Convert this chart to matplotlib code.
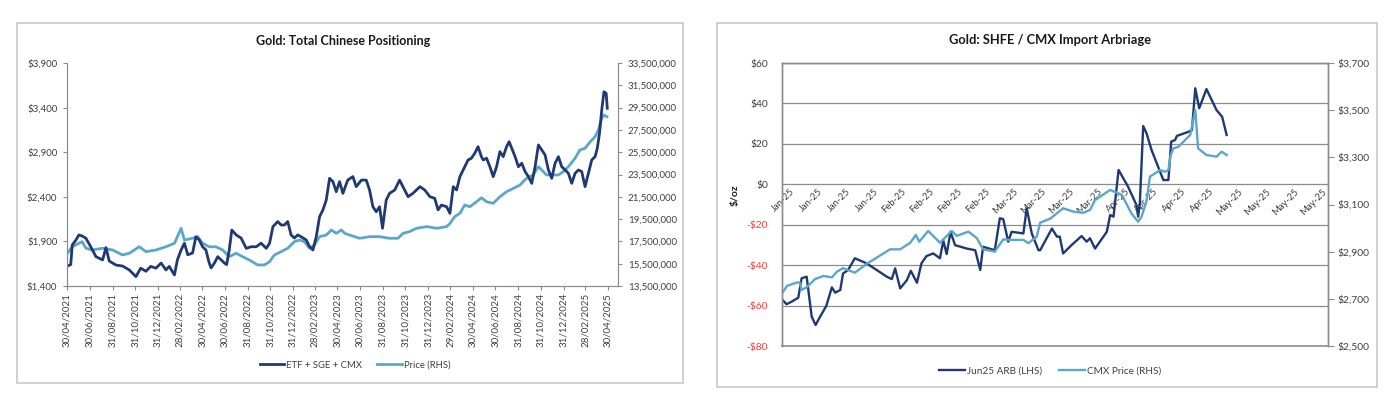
import matplotlib
matplotlib.use('Agg')
import matplotlib.pyplot as plt
import matplotlib.dates as mdates
import pandas as pd
from matplotlib.patches import Rectangle
from matplotlib.ticker import FuncFormatter

plt.rcParams['font.family'] = ['Lato', 'DejaVu Sans']

NAVY = '#1f3a73'
SKY = '#5ba6cb'
GREY = '#8c8c8c'
TXT = '#404040'

# ---- chart 1: Gold, total Chinese positioning (oz, millions) and gold price ($/oz)
pos_dates = [
    '2021-05-01', '2021-05-10', '2021-05-14', '2021-05-24', '2021-06-01', '2021-06-10', '2021-06-20',
    '2021-07-03', '2021-07-17', '2021-08-04', '2021-08-13', '2021-08-22', '2021-09-09', '2021-09-27',
    '2021-10-15', '2021-11-02', '2021-11-15', '2021-11-29', '2021-12-12', '2021-12-26', '2022-01-09',
    '2022-01-22', '2022-01-31', '2022-02-14', '2022-02-22', '2022-03-04', '2022-03-13', '2022-03-22',
    '2022-04-04', '2022-04-13', '2022-04-22', '2022-05-01', '2022-05-10', '2022-05-19', '2022-05-24',
    '2022-06-02', '2022-06-11', '2022-06-20', '2022-06-29', '2022-07-05', '2022-07-12', '2022-07-19',
    '2022-07-31', '2022-08-13', '2022-08-27', '2022-09-09', '2022-09-23', '2022-10-06', '2022-10-20',
    '2022-10-29', '2022-11-07', '2022-11-20', '2022-11-29', '2022-12-08', '2022-12-17', '2022-12-26',
    '2023-01-04', '2023-01-13', '2023-01-22', '2023-02-05', '2023-02-14', '2023-02-23', '2023-03-04',
    '2023-03-13', '2023-03-22', '2023-03-31', '2023-04-09', '2023-04-18', '2023-04-27', '2023-05-06',
    '2023-05-15', '2023-05-28', '2023-06-11', '2023-06-20', '2023-07-04', '2023-07-17', '2023-07-26',
    '2023-08-04', '2023-08-13', '2023-08-22', '2023-08-30', '2023-09-09', '2023-09-18', '2023-10-02',
    '2023-10-15', '2023-10-24', '2023-11-07', '2023-11-20', '2023-12-09', '2023-12-22', '2024-01-05',
    '2024-01-18', '2024-01-27', '2024-02-05', '2024-02-19', '2024-02-28', '2024-03-08', '2024-03-17',
    '2024-03-26', '2024-04-08', '2024-04-17', '2024-04-26', '2024-05-05', '2024-05-14', '2024-05-23',
    '2024-05-28', '2024-06-06', '2024-06-15', '2024-06-24', '2024-07-03', '2024-07-12', '2024-07-21',
    '2024-07-30', '2024-08-06', '2024-08-13', '2024-08-22', '2024-08-31', '2024-09-09', '2024-09-18',
    '2024-09-27', '2024-10-06', '2024-10-15', '2024-10-24', '2024-11-02', '2024-11-11', '2024-11-20',
    '2024-11-29', '2024-12-08', '2024-12-17', '2024-12-26', '2025-01-04', '2025-01-13', '2025-01-22',
    '2025-01-31', '2025-02-09', '2025-02-18', '2025-02-27', '2025-03-08', '2025-03-17', '2025-03-26',
    '2025-04-01', '2025-04-07', '2025-04-13', '2025-04-19', '2025-04-25', '2025-04-28',
]
pos_moz = [
    15.29, 15.42, 17.18, 17.63, 18.08, 17.98, 17.78,
    17.02, 16.13, 15.84, 16.94, 15.74, 15.38, 15.29,
    14.94, 14.34, 15.10, 14.82, 15.26, 15.10, 15.56,
    14.94, 15.26, 14.49, 15.84, 16.73, 17.34, 16.30,
    16.46, 17.92, 17.63, 17.02, 16.73, 15.56, 15.12,
    15.56, 16.13, 15.84, 15.56, 15.42, 16.73, 18.52,
    18.08, 17.80, 16.88, 17.02, 17.02, 17.34, 16.88,
    17.34, 18.82, 19.28, 18.97, 18.97, 19.28, 18.08,
    17.80, 18.08, 17.92, 17.63, 17.02, 16.73, 17.92,
    19.72, 20.32, 21.21, 23.16, 22.86, 21.96, 22.86,
    21.81, 23.00, 23.31, 22.41, 23.00, 23.00, 22.11,
    20.61, 20.16, 20.61, 18.68, 21.21, 21.81, 22.11,
    23.00, 22.41, 21.51, 21.81, 22.41, 22.11, 21.51,
    21.36, 20.32, 20.76, 20.61, 20.02, 22.41, 22.11,
    23.31, 24.20, 24.80, 24.96, 25.40, 26.00, 25.10,
    24.80, 24.96, 24.20, 23.31, 24.20, 25.55, 25.10,
    26.00, 26.44, 25.85, 25.10, 24.20, 24.51, 23.76,
    23.31, 22.71, 24.20, 26.15, 25.70, 25.25, 23.91,
    23.16, 24.51, 25.10, 24.20, 23.91, 23.60, 22.71,
    23.60, 23.91, 23.76, 22.41, 23.60, 24.80, 25.10,
    25.85, 27.20, 29.28, 30.92, 30.78, 29.44,
]

price_dates = [
    '2021-05-01', '2021-05-14', '2021-06-01', '2021-06-10', '2021-06-20', '2021-07-07', '2021-08-04',
    '2021-08-31', '2021-09-27', '2021-10-15', '2021-11-11', '2021-11-29', '2021-12-26', '2022-01-22',
    '2022-02-14', '2022-03-04', '2022-03-13', '2022-04-04', '2022-04-18', '2022-05-01', '2022-05-19',
    '2022-06-06', '2022-06-24', '2022-07-12', '2022-07-31', '2022-08-17', '2022-09-04', '2022-09-27',
    '2022-10-15', '2022-10-29', '2022-11-11', '2022-11-29', '2022-12-17', '2023-01-04', '2023-01-18',
    '2023-01-31', '2023-02-14', '2023-02-27', '2023-03-13', '2023-03-31', '2023-04-14', '2023-04-27',
    '2023-05-11', '2023-05-20', '2023-06-02', '2023-06-29', '2023-07-26', '2023-08-22', '2023-09-18',
    '2023-10-11', '2023-10-24', '2023-11-11', '2023-11-30', '2023-12-27', '2024-01-23', '2024-02-19',
    '2024-02-28', '2024-03-12', '2024-03-26', '2024-04-08', '2024-04-22', '2024-05-10', '2024-05-23',
    '2024-06-06', '2024-06-24', '2024-07-12', '2024-07-30', '2024-08-17', '2024-09-04', '2024-09-22',
    '2024-10-10', '2024-10-24', '2024-11-02', '2024-11-15', '2024-11-29', '2024-12-17', '2024-12-30',
    '2025-01-13', '2025-01-31', '2025-02-13', '2025-02-27', '2025-03-13', '2025-03-26', '2025-04-04',
    '2025-04-13', '2025-04-19', '2025-04-27',
]
price_usd = [
    1767, 1840, 1879, 1897, 1823, 1804, 1823,
    1804, 1748, 1767, 1840, 1785, 1804, 1840,
    1879, 2047, 1916, 1935, 1953, 1880, 1840,
    1840, 1804, 1729, 1767, 1729, 1692, 1636,
    1636, 1673, 1748, 1785, 1823, 1897, 1916,
    1897, 1823, 1860, 1953, 1972, 2028, 1990,
    2028, 1990, 1972, 1935, 1953, 1953, 1935,
    1935, 1990, 2010, 2047, 2066, 2047, 2066,
    2100, 2178, 2215, 2308, 2289, 2345, 2390,
    2345, 2327, 2401, 2457, 2494, 2532, 2607,
    2645, 2738, 2701, 2645, 2645, 2645, 2682,
    2738, 2832, 2925, 2944, 3018, 3074, 3149,
    3280, 3317, 3298,
]

# ---- chart 2: SHFE / CMX import arbitrage ($/oz) and CMX price
arb_labels = ['Jan-25'] * 4 + ['Feb-25'] * 4 + ['Mar-25'] * 4 + ['Apr-25'] * 4 + ['May-25'] * 4

arb_day = [
    0.0, 0.8, 1.7, 2.9, 3.5, 4.4, 5.3, 6.0, 6.8, 7.9, 8.9, 9.5, 10.4, 10.9, 11.8, 13.0,
    15.1, 16.9, 18.7, 19.6, 20.2, 21.1, 22.3, 23.0, 24.1, 24.9, 25.8, 27.0, 28.2, 28.8,
    29.4, 30.1, 30.9, 33.0, 34.5, 35.4, 35.9, 38.0, 38.9, 39.5, 40.4, 41.0, 43.1, 43.7,
    44.6, 45.8, 46.1, 48.2, 49.1, 49.6, 50.2, 51.7, 53.5, 54.4, 55.0, 55.9, 58.0, 58.6,
    59.2, 60.1, 61.8, 63.3, 63.6, 63.9, 64.5, 65.1, 66.0, 68.1, 69.0, 69.5, 70.2, 70.5,
    72.6, 73.2, 73.8, 74.5, 75.8, 77.6, 78.6, 79.4,
]
arb_usd = [
    -56.9, -59.3, -58.1, -56.1, -46.5, -45.7, -65.5, -69.6, -65.5, -60.2, -51.0, -53.6, -52.3, -44.1, -42.4, -36.6,
    -39.1, -42.4, -45.7, -46.9, -41.6, -51.5, -47.4, -42.8, -48.7, -39.1, -35.5, -34.2, -36.6, -27.9,
    -34.5, -23.5, -30.1, -31.8, -32.6, -42.4, -30.9, -32.6, -16.8, -17.2, -28.4, -23.5, -24.3, -11.9,
    -24.3, -32.6, -32.6, -21.9, -25.9, -25.9, -34.2, -30.1, -25.6, -28.4, -26.7, -31.8, -23.5, -15.2,
    -16.0, 7.1, -1.2, -10.3, -16.0, -9.5, 28.8, 25.2, 16.9, 2.1, 2.1, 21.1, 21.9, 23.9,
    26.0, 26.8, 47.5, 37.6, 47.1, 36.7, 33.4, 24.4,
]

cmx_day = [
    0.0, 0.9, 2.6, 3.2, 3.5, 4.4, 5.9, 7.4, 8.9, 9.8, 10.9, 13.0, 15.1, 17.2, 19.3, 21.1,
    22.9, 23.9, 24.5, 26.1, 28.2, 30.3, 31.2, 33.3, 34.8, 35.9, 38.0, 39.5, 41.0, 43.1,
    44.0, 45.5, 46.1, 47.9, 50.2, 52.0, 53.8, 55.0, 55.9, 58.6, 60.7, 62.4, 63.6, 64.2,
    65.1, 65.7, 67.5, 68.4, 69.0, 69.4, 69.9, 70.8, 72.3, 72.9, 73.8, 74.3, 75.8, 77.6,
    78.5, 79.4,
]
cmx_usd = [
    2723, 2755, 2769, 2769, 2738, 2749, 2784, 2797, 2791, 2815, 2830, 2811, 2848, 2879, 2910, 2910,
    2938, 2971, 2942, 2988, 2938, 2988, 2967, 2985, 2957, 2910, 2900, 2952, 2950, 2950,
    2936, 2964, 3023, 3040, 3084, 3070, 3065, 3077, 3119, 3162, 3140, 3062, 3027, 3048,
    3115, 3218, 3246, 3239, 3246, 3310, 3338, 3345, 3381, 3395, 3501, 3338, 3310, 3303,
    3324, 3310,
]

fig = plt.figure(figsize=(13.91, 3.99), dpi=100)

# panel frames
for x0, y0, w, h in [(0.0122, 0.0401, 0.4788, 0.9023), (0.5155, 0.0301, 0.4745, 0.9123)]:
    fig.patches.append(Rectangle((x0, y0), w, h, transform=fig.transFigure,
                                 fill=False, edgecolor='#c8c8c8', linewidth=1.2))

# ---------------- left chart ----------------
ax1 = fig.add_axes([0.0482, 0.2832, 0.3961, 0.5589])
ax1b = ax1.twinx()

l_price, = ax1.plot(pd.to_datetime(price_dates), price_usd, color=SKY, lw=2.0, label='Price (RHS)')
l_pos, = ax1b.plot(pd.to_datetime(pos_dates), pos_moz, color=NAVY, lw=2.0, label='ETF + SGE + CMX')

ax1.set_xlim(pd.Timestamp('2021-04-30'), pd.Timestamp('2025-05-27'))
ax1.set_ylim(1400, 3900)
ax1.set_yticks(range(1400, 3901, 500))
ax1.yaxis.set_major_formatter(FuncFormatter(lambda v, p: '${:,.0f}'.format(v)))
ax1b.set_ylim(13.5, 33.5)
ax1b.set_yticks([13.5 + 2 * k for k in range(11)])
ax1b.yaxis.set_major_formatter(FuncFormatter(lambda v, p: '{:,.0f}'.format(v * 1e6)))

month_ticks = pd.date_range('2021-04-30', '2025-04-30', freq='2ME')
ax1.set_xticks(month_ticks)
ax1.xaxis.set_major_formatter(mdates.DateFormatter('%d/%m/%Y'))
ax1.tick_params(axis='x', rotation=90, labelsize=7, colors=TXT, length=3, color=GREY, pad=2)
ax1.tick_params(axis='y', labelsize=7, colors=TXT, length=3, color=GREY, pad=4)
ax1b.tick_params(axis='y', labelsize=7, colors=TXT, length=3, color=GREY, pad=4)

for a in (ax1, ax1b):
    a.spines['top'].set_visible(False)
    for s in ('left', 'right', 'bottom'):
        a.spines[s].set_color(GREY)
        a.spines[s].set_linewidth(0.8)

fig.text(0.2466, 0.8972, 'Gold: Total Chinese Positioning', ha='center', va='center',
         fontsize=9, fontweight='bold', color='#1a1a1a')
fig.legend(handles=[l_pos, l_price], loc='center', bbox_to_anchor=(0.2552, 0.0852), ncol=2,
           frameon=False, fontsize=6.8, handlelength=2.6, columnspacing=1.6, handletextpad=0.2,
           labelcolor=TXT)

# ---------------- right chart ----------------
ax2 = fig.add_axes([0.5622, 0.1328, 0.3925, 0.7093])
ax2b = ax2.twinx()

l_arb, = ax2.plot(arb_day, arb_usd, color=NAVY, lw=1.7, label='Jun25 ARB (LHS)')
l_cmx, = ax2b.plot(cmx_day, cmx_usd, color=SKY, lw=1.7, label='CMX Price (RHS)')

ax2.set_xlim(0, 97.5)
ax2.set_ylim(-80, 60)
# x axis crosses at $0 (set before the tick labels: moving a spine resets its ticks)
ax2.spines['bottom'].set_position(('data', 0))
ax2.spines['bottom'].set_visible(False)

yt = list(range(-80, 61, 20))
ax2.set_yticks(yt)
ax2.set_yticklabels([('-$%d' % -v) if v < 0 else ('$%d' % v) for v in yt])
for lab, v in zip(ax2.get_yticklabels(), yt):
    lab.set_color('#ff3b3b' if v < 0 else TXT)
ax2.grid(axis='y', color=GREY, lw=0.9)
ax2.set_axisbelow(True)

ax2.set_xticks([1.4 + 5 * k for k in range(len(arb_labels))])
ax2.set_xticklabels(arb_labels, rotation=45, ha='right', va='top', rotation_mode='anchor')
ax2.tick_params(axis='x', length=0, labelsize=6.8, colors=TXT, pad=2)
ax2.tick_params(axis='y', length=0, labelsize=7.4, pad=10)
ax2.axhline(-80, color=GREY, lw=1.2, clip_on=False)

ax2b.set_ylim(2500, 3700)
ax2b.set_yticks(range(2500, 3701, 200))
ax2b.yaxis.set_major_formatter(FuncFormatter(lambda v, p: '${:,.0f}'.format(v)))
ax2b.tick_params(axis='y', length=4, color=GREY, labelsize=7.4, colors=TXT, pad=3)

for a in (ax2, ax2b):
    for s in ('left', 'right', 'top'):
        a.spines[s].set_color(GREY)
        a.spines[s].set_linewidth(1.0)
ax2b.spines['bottom'].set_visible(False)

ax2.set_ylabel('$/oz', fontsize=7.5, fontweight='bold', color='#1a1a1a')
ax2.yaxis.set_label_coords(-0.077, 0.534)

fig.text(0.7549, 0.8997, 'Gold: SHFE / CMX Import Arbriage', ha='center', va='center',
         fontsize=9.3, fontweight='bold', color='#1a1a1a')
fig.legend(handles=[l_arb, l_cmx], loc='center', bbox_to_anchor=(0.7549, 0.0702), ncol=2,
           frameon=False, fontsize=7.2, handlelength=2.6, columnspacing=1.6, handletextpad=0.2,
           labelcolor=TXT)

fig.savefig('out.png', dpi=100)
